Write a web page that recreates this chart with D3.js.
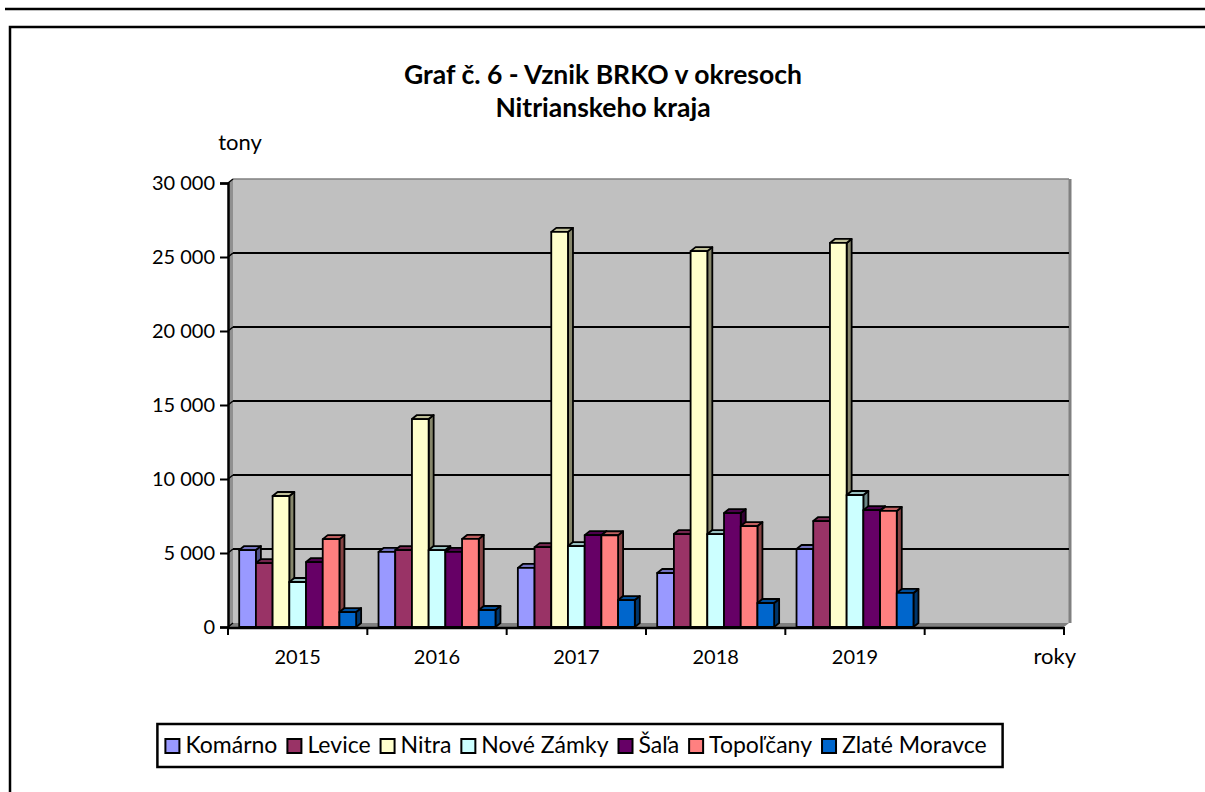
<!DOCTYPE html>
<html>
<head>
<meta charset="utf-8">
<script src="https://cdn.jsdelivr.net/npm/d3@7"></script>
<style>
  body { margin: 0; background: #fff; }
  svg { display: block; font-family: Lato, "Open Sans", sans-serif; }
</style>
</head>
<body>
<svg id="chart" width="1205" height="792"></svg>
<script>
// data (tony)
const years = ["2015", "2016", "2017", "2018", "2019"]
const districts = ["Komárno", "Levice", "Nitra", "Nové Zámky", "Šaľa", "Topoľčany", "Zlaté Moravce"]
const colors = ["#9999FF", "#993366", "#FFFFCC", "#CCFFFF", "#660066", "#FF8080", "#0066CC"]
const komarno = [5200, 5070, 3990, 3650, 5270]
const levice = [4320, 5200, 5400, 6280, 7160]
const nitra = [8850, 14050, 26700, 25400, 25950]
const noveZamky = [3040, 5200, 5470, 6280, 8920]
const sala = [4390, 5070, 6210, 7700, 7900]
const topolcany = [5940, 5950, 6200, 6820, 7840]
const zlateMoravce = [1010, 1150, 1820, 1620, 2300]
const yTicks = [0, 5000, 10000, 15000, 20000, 25000, 30000]

const series = [komarno, levice, nitra, noveZamky, sala, topolcany, zlateMoravce]
const categories = years.concat([""])   // empty slot on the right like in the original

const svg = d3.select("#chart")
const dx = 5, dy = 4   // 3d depth

// frame lines
svg.append("line").attr("x1", 5).attr("x2", 1205).attr("y1", 9).attr("y2", 9)
    .attr("stroke", "#000").attr("stroke-width", 2.5)
svg.append("rect").attr("x", 10).attr("y", 27).attr("width", 1300).attr("height", 900)
    .attr("fill", "none").attr("stroke", "#000").attr("stroke-width", 2.5)

// title
svg.append("text").attr("x", 603).attr("y", 84).attr("text-anchor", "middle")
    .attr("font-size", 26.5).attr("font-weight", "bold").text("Graf č. 6 - Vznik BRKO v okresoch")
svg.append("text").attr("x", 603).attr("y", 117).attr("text-anchor", "middle")
    .attr("font-size", 26.5).attr("font-weight", "bold").text("Nitrianskeho kraja")

const y = d3.scaleLinear().domain([0, 30000]).range([627, 183])
const x0 = d3.scaleBand().domain(categories).range([228, 1064])
const x1 = d3.scaleBand().domain(districts).range([0, x0.bandwidth()]).paddingOuter(0.67)

const xLeft = x0.range()[0], xRight = x0.range()[1]
const yBottom = y(0), yTop = y(30000)

// walls
svg.append("polygon")
    .attr("points", [[xLeft, yBottom], [xLeft + dx, yBottom - dy], [xLeft + dx, yTop - dy], [xLeft, yTop]].join(" "))
    .attr("fill", "#909090")
svg.append("polygon")
    .attr("points", [[xLeft, yBottom], [xLeft + dx, yBottom - dy], [xRight + dx, yBottom - dy], [xRight, yBottom]].join(" "))
    .attr("fill", "#808080")
svg.append("rect").attr("x", xLeft + dx).attr("y", yTop - dy)
    .attr("width", xRight - xLeft).attr("height", yBottom - yTop)
    .attr("fill", "#C0C0C0")
svg.append("line").attr("x1", xRight + dx + 1).attr("x2", xRight + dx + 1)
    .attr("y1", yTop - dy).attr("y2", yBottom - dy)
    .attr("stroke", "#808080").attr("stroke-width", 3)
svg.append("line").attr("x1", xLeft + dx).attr("x2", xRight + dx)
    .attr("y1", yTop - dy).attr("y2", yTop - dy)
    .attr("stroke", "#808080").attr("stroke-width", 1.5)

// gridlines on back wall
svg.append("g").selectAll("line")
    .data(yTicks.filter(d => d > 0 && d < 30000))
    .join("line")
    .attr("x1", xLeft + dx).attr("x2", xRight + dx)
    .attr("y1", d => y(d) - dy).attr("y2", d => y(d) - dy)
    .attr("stroke", "#000").attr("stroke-width", 2)
svg.append("g").selectAll("line")
    .data(yTicks)
    .join("line")
    .attr("x1", xLeft).attr("x2", xLeft + dx)
    .attr("y1", d => y(d)).attr("y2", d => y(d) - dy)
    .attr("stroke", "#000").attr("stroke-width", 1.5)

// bars
const bars = svg.append("g")
years.forEach((yr, i) => {
    districts.forEach((name, j) => {
        const v = series[j][i]
        const bx = x0(yr) + x1(name), by = y(v), w = x1.bandwidth()
        const c = d3.color(colors[j])
        const g = bars.append("g").attr("stroke", "#000").attr("stroke-width", 1.8).attr("stroke-linejoin", "round")
        g.append("polygon")
            .attr("points", [[bx + w, by], [bx + w + dx, by - dy], [bx + w + dx, yBottom - dy], [bx + w, yBottom]].join(" "))
            .attr("fill", c.darker(1.8))
        g.append("polygon")
            .attr("points", [[bx, by], [bx + dx, by - dy], [bx + w + dx, by - dy], [bx + w, by]].join(" "))
            .attr("fill", c.darker(0.8))
        g.append("rect").attr("x", bx).attr("y", by).attr("width", w).attr("height", yBottom - by)
            .attr("fill", colors[j])
    })
})

// y axis
const yAxis = d3.axisLeft(y).tickValues(yTicks).tickSize(8).tickPadding(5)
    .tickFormat(d => d3.format(",")(d).replace(/,/g, " "))
const ya = svg.append("g").attr("transform", `translate(${xLeft},0)`).call(yAxis)
ya.select(".domain").attr("stroke-width", 2.5)
ya.selectAll(".tick line").attr("stroke-width", 2)
ya.selectAll("text").attr("font-size", 20).attr("font-family", "Lato, 'Open Sans', sans-serif").attr("fill", "#000")

svg.append("text").attr("x", 240).attr("y", 150).attr("text-anchor", "middle")
    .attr("font-size", 22).text("tony")

// x axis
svg.append("line").attr("x1", xLeft).attr("x2", xRight).attr("y1", yBottom + 1).attr("y2", yBottom + 1)
    .attr("stroke", "#000").attr("stroke-width", 2.5)
svg.append("g").selectAll("line")
    .data(categories.map(c => x0(c)).concat([xRight]))
    .join("line")
    .attr("x1", d => d).attr("x2", d => d)
    .attr("y1", yBottom).attr("y2", yBottom + 8)
    .attr("stroke", "#000").attr("stroke-width", 2)
svg.append("g").selectAll("text")
    .data(years)
    .join("text")
    .attr("x", d => x0(d) + x0.bandwidth() / 2)
    .attr("y", 664)
    .attr("text-anchor", "middle")
    .attr("font-size", 20)
    .text(d => d)
svg.append("text").attr("x", 1076).attr("y", 664).attr("text-anchor", "end")
    .attr("font-size", 22).text("roky")

// legend
const legend = svg.append("g")
const legBox = legend.append("rect")
let lx = 0
districts.forEach((name, j) => {
    legend.append("rect").attr("x", lx).attr("y", -13).attr("width", 14).attr("height", 14)
        .attr("fill", colors[j]).attr("stroke", "#000").attr("stroke-width", 2)
    const t = legend.append("text").attr("x", lx + 20).attr("y", 1).attr("font-size", 23).text(name)
    lx += 20 + t.node().getComputedTextLength() + 10
})
const legW = lx - 10
const legX = 580 - legW / 2 - 4
legend.attr("transform", `translate(${legX},752)`)
legBox.attr("x", -8).attr("y", -28).attr("width", legW + 24).attr("height", 43)
    .attr("fill", "#fff").attr("stroke", "#000").attr("stroke-width", 2.5)
</script>
</body>
</html>
